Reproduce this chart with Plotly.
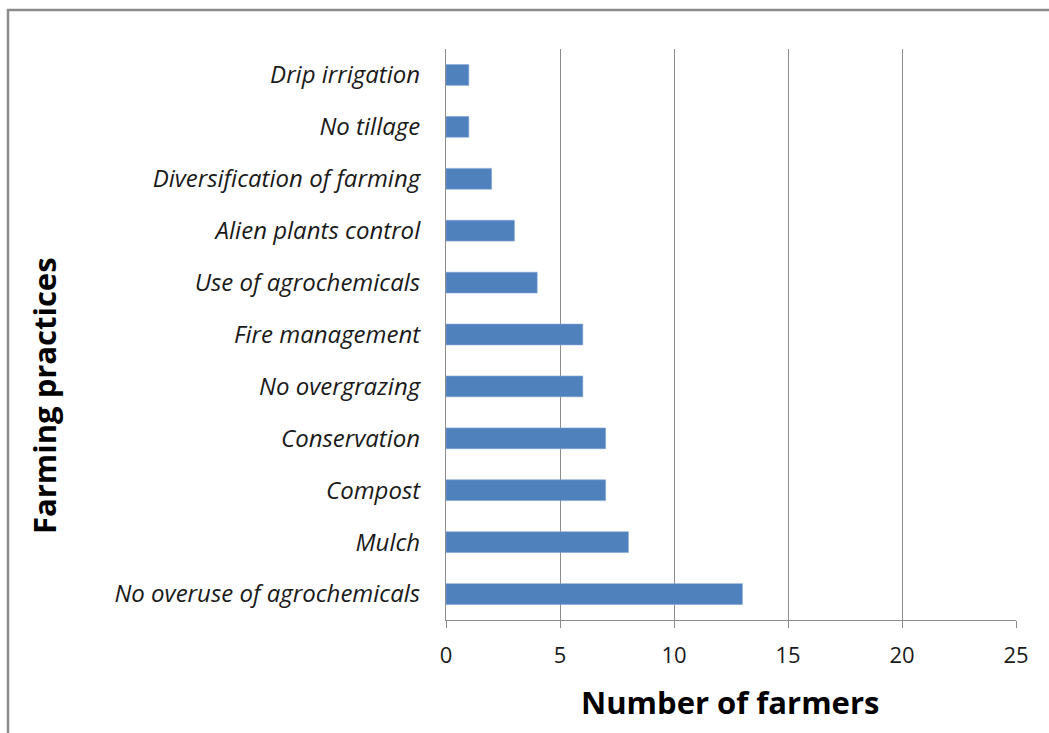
import plotly.graph_objects as go

practices = ["Drip irrigation", "No tillage", "Diversification of farming",
             "Alien plants control", "Use of agrochemicals", "Fire management",
             "No overgrazing", "Conservation", "Compost", "Mulch",
             "No overuse of agrochemicals"]
farmers = [1, 1, 2, 3, 4, 6, 6, 7, 7, 8, 13]
x_ticks = [0, 5, 10, 15, 20, 25]

W, H = 1049, 733
L, R, T, B = 446, 33, 49, 113
pw, ph = W - L - R, H - T - B
FONT = "Open Sans"

def px(x):
    return (x - L) / pw

def py(y):
    return (H - B - y) / ph

fig = go.Figure(go.Bar(
    y=practices, x=farmers, orientation="h",
    marker=dict(color="#4F81BD", line=dict(color="#7FA3D3", width=0.6)),
))

fig.update_layout(
    width=W, height=H,
    margin=dict(l=L, r=R, t=T, b=B),
    paper_bgcolor="white", plot_bgcolor="white",
    bargap=0.6, showlegend=False,
    font=dict(family=FONT, color="#000000"),
    xaxis=dict(range=[0, 25], tickvals=x_ticks, showgrid=True,
               gridcolor="#8C8C8C", gridwidth=1, showline=True,
               linecolor="#8C8C8C", linewidth=1, ticks="outside",
               ticklen=7, tickcolor="#8C8C8C", ticklabelstandoff=9,
               tickfont=dict(size=22, family=FONT, color="#1a1a1a"),
               zeroline=False),
    yaxis=dict(autorange="reversed", showline=True, linecolor="#8C8C8C",
               linewidth=1, showgrid=False, ticks="",
               ticklabelstandoff=20,
               tickfont=dict(size=24, family=FONT, style="italic",
                             color="#1a1a1a")),
    annotations=[
        dict(text="<b>Number of farmers</b>", xref="paper", yref="paper",
             x=px(730), y=py(702), showarrow=False,
             font=dict(size=31, family=FONT, color="#000000"),
             xanchor="center", yanchor="middle"),
        dict(text="<b>Farming practices</b>", xref="paper", yref="paper",
             x=px(44), y=py(396), showarrow=False, textangle=-90,
             font=dict(size=31, family=FONT, color="#000000"),
             xanchor="center", yanchor="middle"),
    ],
    shapes=[
        dict(type="rect", xref="paper", yref="paper",
             x0=px(8), x1=px(1100), y0=py(800), y1=py(10),
             line=dict(color="#8C8C8C", width=2.5), fillcolor="rgba(0,0,0,0)",
             layer="above"),
    ],
)

fig.write_html("out.html")
